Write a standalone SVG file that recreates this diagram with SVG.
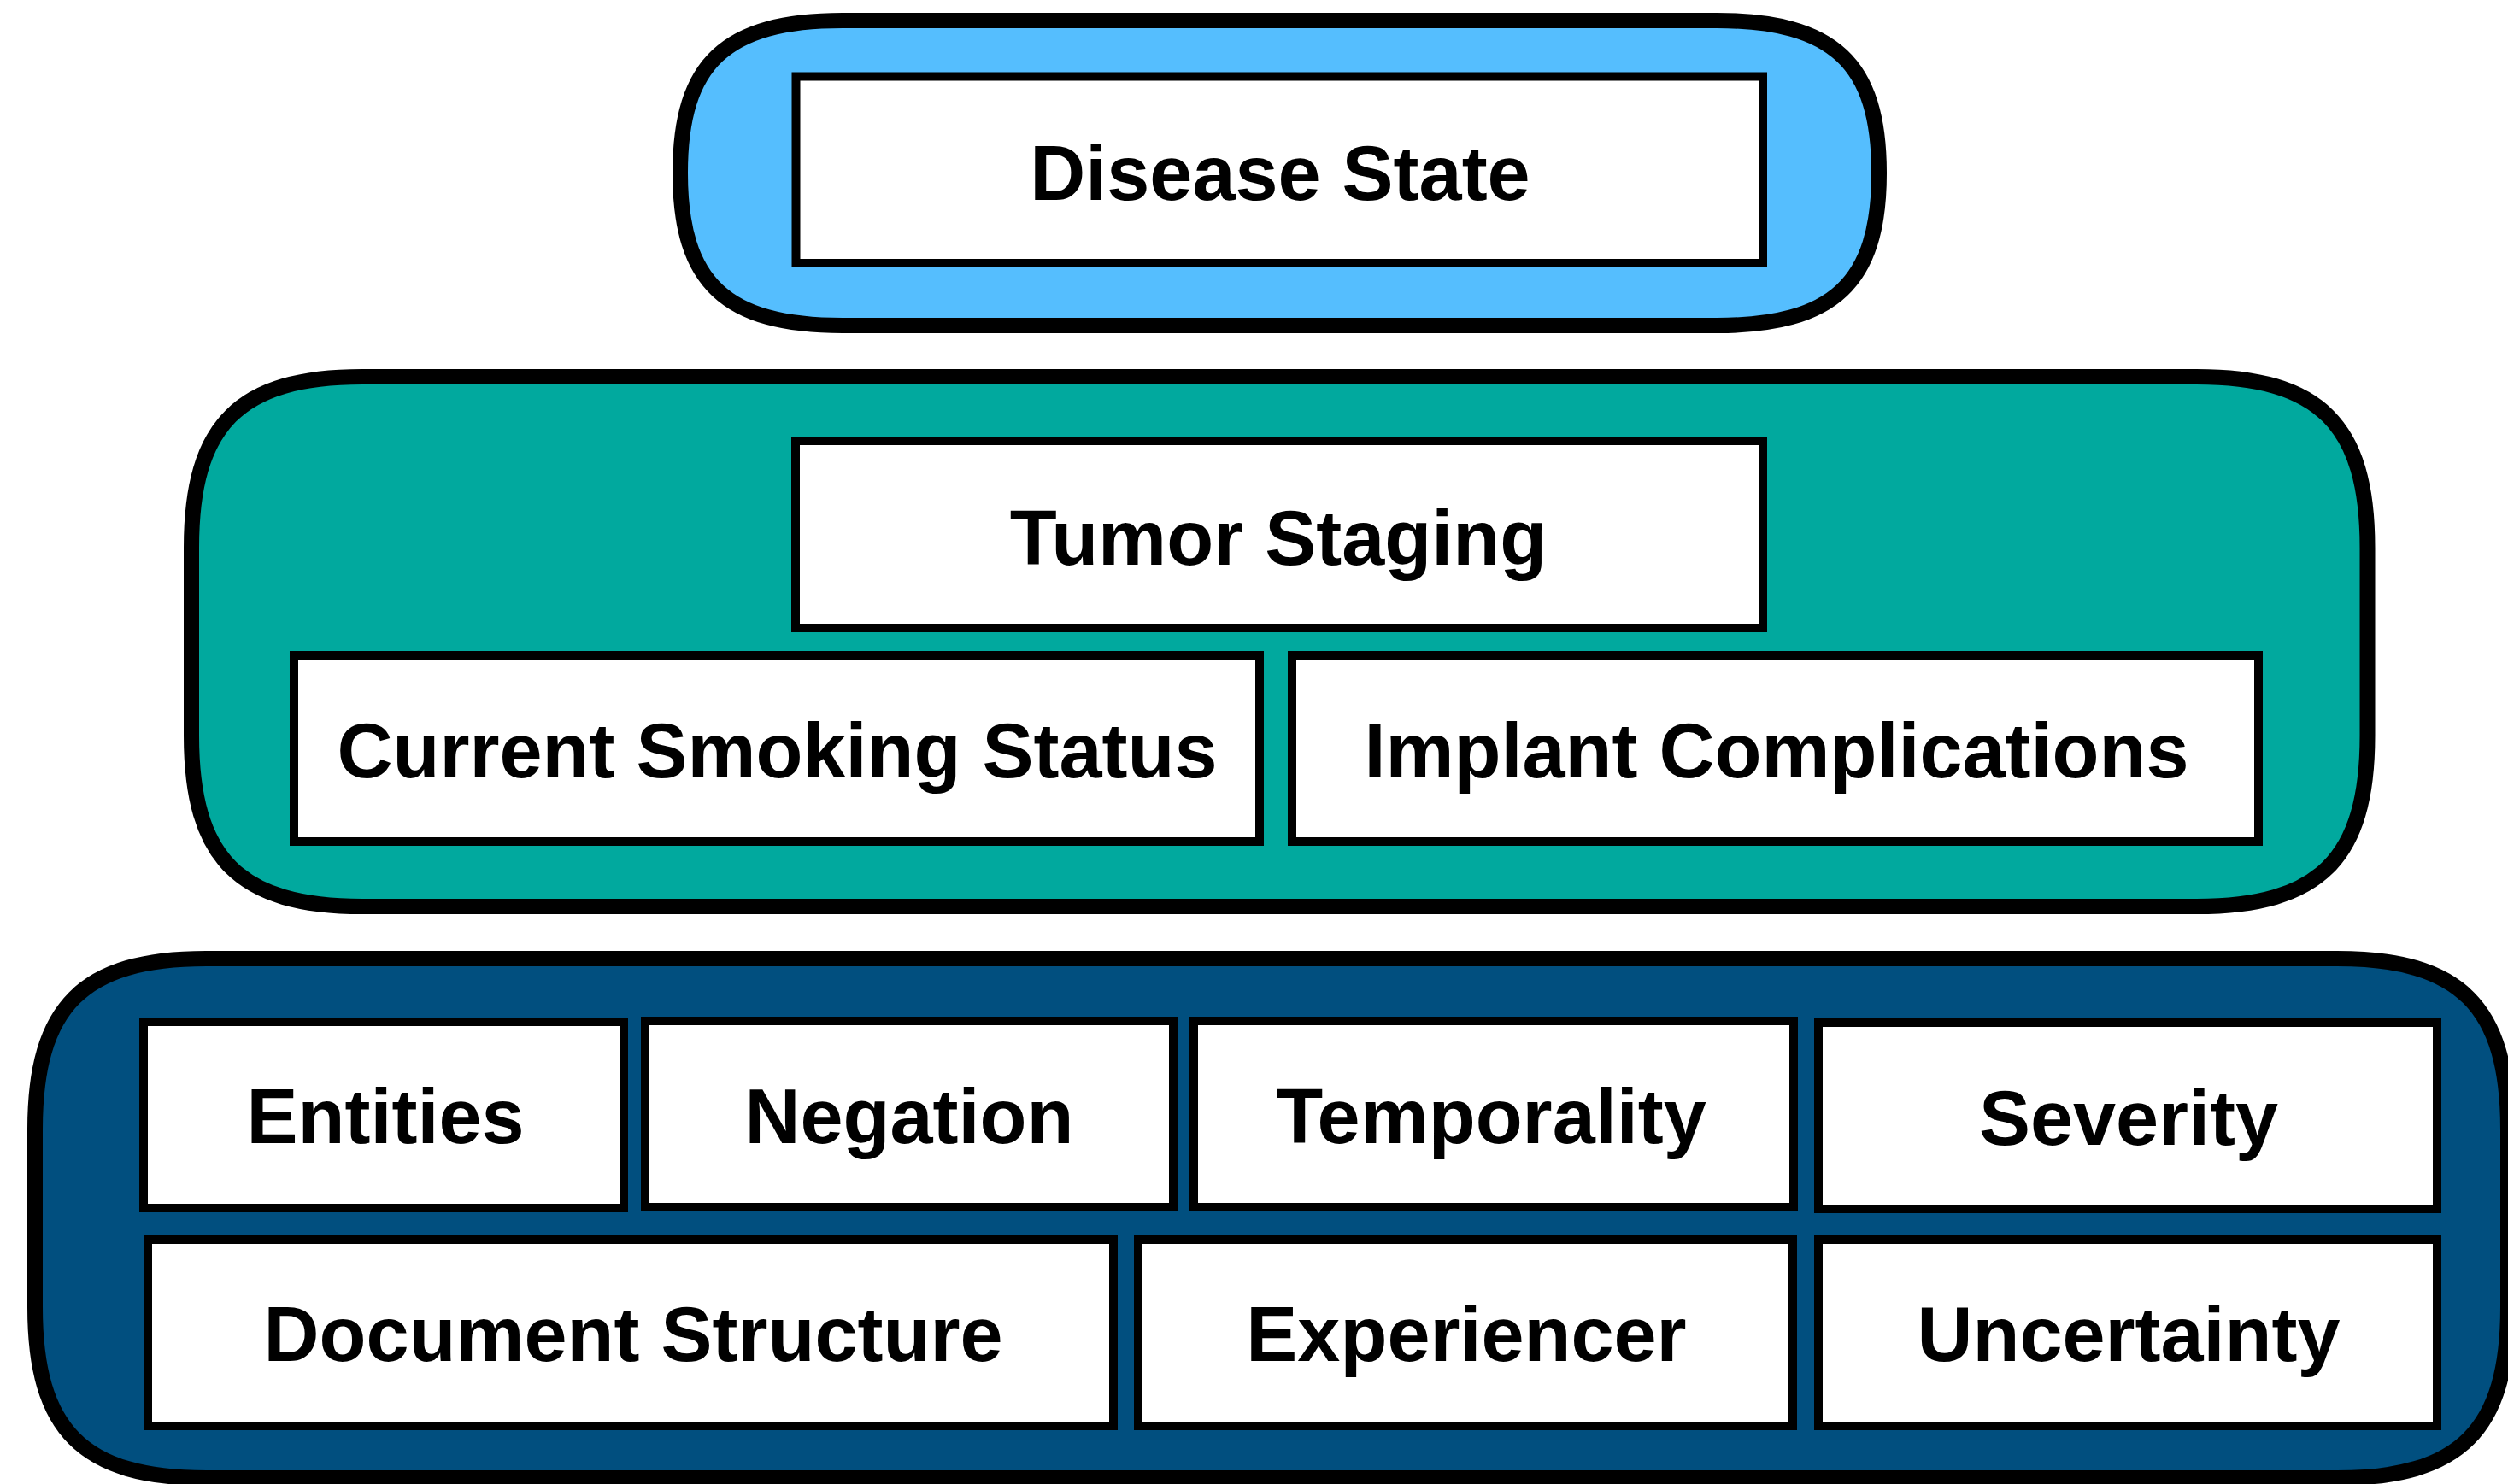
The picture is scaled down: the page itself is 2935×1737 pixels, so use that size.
<svg xmlns="http://www.w3.org/2000/svg" width="2935" height="1737" viewBox="0 0 2935 1737">
  <style>
    .tier { stroke: #000; stroke-width: 18; stroke-linejoin: round; }
    .tier-top { fill: #55BEFE; }
    .tier-mid { fill: #01A99E; }
    .tier-base { fill: #014F7F; }
    .box { fill: #fff; stroke: #000; stroke-width: 10; }
    .label { font-family: "Liberation Sans", Arial, Helvetica, sans-serif; font-weight: bold; font-size: 90px; fill: #000; text-anchor: middle; }
  </style>

  <rect x="0" y="0" width="2935" height="1737" fill="#fff"/>

  <!-- Top tier -->
  <g id="tier-disease">
    <path class="tier tier-top" d="M 986,24 H 2009 C 2145.8,24 2199,74 2199,202.5 C 2199,331 2145.8,381 2009,381 H 986 C 849.2,381 796,331 796,202.5 C 796,74 849.2,24 986,24 Z"/>
    <g id="node-disease-state">
      <rect class="box" x="931.5" y="89.5" width="1131.5" height="218.5"/>
      <text class="label" x="1498" y="234">Disease State</text>
    </g>
  </g>

  <!-- Middle tier -->
  <g id="tier-clinical">
    <path class="tier tier-mid" d="M 424,441 H 2570.5 C 2714.5,441 2770.5,497 2770.5,641 V 861 C 2770.5,1005 2714.5,1061 2570.5,1061 H 424 C 280,1061 224,1005 224,861 V 641 C 224,497 280,441 424,441 Z"/>
    <g id="node-tumor-staging">
      <rect class="box" x="931" y="516" width="1132" height="219"/>
      <text class="label" x="1496" y="661">Tumor Staging</text>
    </g>
    <g id="node-smoking-status">
      <rect class="box" x="344" y="767" width="1130" height="218"/>
      <text class="label" x="909.5" y="910">Current Smoking Status</text>
    </g>
    <g id="node-implant-complications">
      <rect class="box" x="1512" y="767" width="1131" height="218"/>
      <text class="label" x="2079" y="910">Implant Complications</text>
    </g>
  </g>

  <!-- Base tier -->
  <g id="tier-base">
    <path class="tier tier-base" d="M 241,1122 H 2735 C 2879,1122 2935,1178 2935,1322 V 1530 C 2935,1674 2879,1730 2735,1730 H 241 C 97,1730 41,1674 41,1530 V 1322 C 41,1178 97,1122 241,1122 Z"/>
    <g id="node-entities">
      <rect class="box" x="168" y="1196" width="562" height="218"/>
      <text class="label" x="451" y="1338">Entities</text>
    </g>
    <g id="node-negation">
      <rect class="box" x="755" y="1195" width="618" height="218"/>
      <text class="label" x="1064" y="1338">Negation</text>
    </g>
    <g id="node-temporality">
      <rect class="box" x="1397" y="1195" width="702" height="218"/>
      <text class="label" x="1745" y="1338">Temporality</text>
    </g>
    <g id="node-severity">
      <rect class="box" x="2128" y="1197" width="724" height="218"/>
      <text class="label" x="2491" y="1340">Severity</text>
    </g>
    <g id="node-document-structure">
      <rect class="box" x="173" y="1451" width="1130" height="218"/>
      <text class="label" x="741" y="1593">Document Structure</text>
    </g>
    <g id="node-experiencer">
      <rect class="box" x="1332" y="1451" width="766" height="218"/>
      <text class="label" x="1716" y="1593">Experiencer</text>
    </g>
    <g id="node-uncertainty">
      <rect class="box" x="2128" y="1451" width="724" height="218"/>
      <text class="label" x="2491" y="1593">Uncertainty</text>
    </g>
  </g>
</svg>
